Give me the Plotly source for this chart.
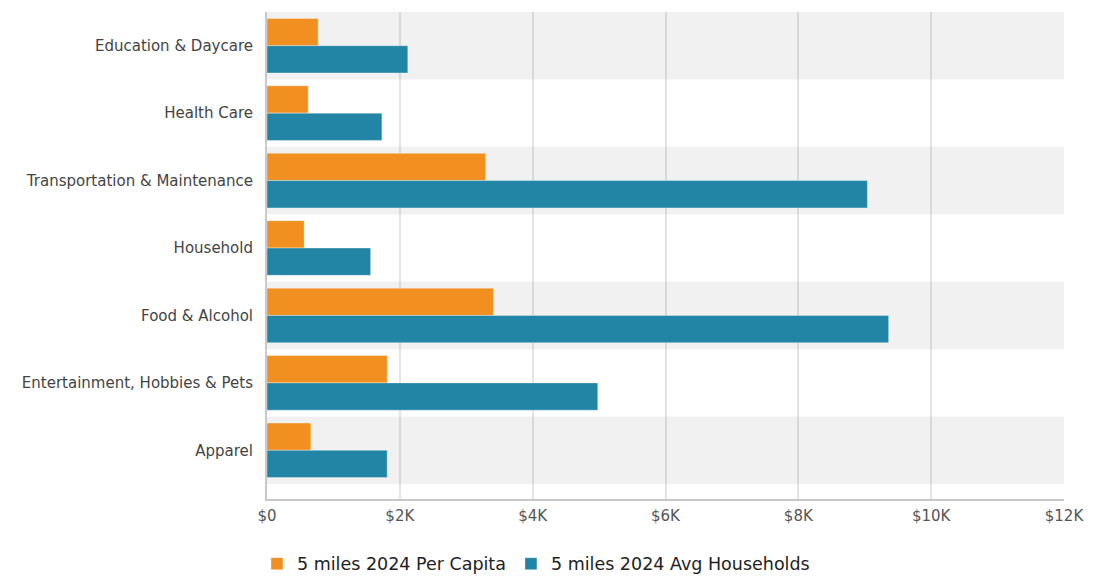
import plotly.graph_objects as go

categories = ["Education & Daycare", "Health Care", "Transportation & Maintenance",
              "Household", "Food & Alcohol", "Entertainment, Hobbies & Pets", "Apparel"]
per_capita = [770, 620, 3290, 560, 3410, 1810, 660]
avg_households = [2120, 1730, 9040, 1560, 9360, 4980, 1810]
series_names = ["5 miles 2024 Per Capita", "5 miles 2024 Avg Households"]
tick_vals = [0, 2000, 4000, 6000, 8000, 10000, 12000]
tick_text = ["$0", "$2K", "$4K", "$6K", "$8K", "$10K", "$12K"]

ORANGE = "#f18f21"
TEAL = "#2285a5"
FONT = "DejaVu Sans, Liberation Sans, Arial, sans-serif"

fig = go.Figure()
fig.add_trace(go.Bar(
    y=categories, x=per_capita, orientation="h", name=series_names[0],
    marker=dict(color=ORANGE, line=dict(color="rgba(255,255,255,0.35)", width=1)),
))
fig.add_trace(go.Bar(
    y=categories, x=avg_households, orientation="h", name=series_names[1],
    marker=dict(color=TEAL, line=dict(color="rgba(255,255,255,0.35)", width=1)),
))

shapes = []
for i in range(0, len(categories), 2):
    shapes.append(dict(type="rect", xref="paper", yref="y", x0=0, x1=1,
                       y0=i - 0.5, y1=i + 0.5, fillcolor="#f1f1f1",
                       line=dict(width=0), layer="below"))

fig.update_layout(
    width=1104, height=569,
    margin=dict(l=259, r=48, t=4, b=78, autoexpand=False),
    paper_bgcolor="white", plot_bgcolor="white",
    barmode="group", bargap=0.19, bargroupgap=0,
    font=dict(family=FONT, color="#444"),
    shapes=shapes,
    showlegend=True,
    legend=dict(orientation="h", x=0.3375, xanchor="center", y=-0.096, yanchor="top",
                font=dict(size=17.5, color="#222", family=FONT), traceorder="normal"),
    xaxis=dict(range=[0, 12000], tickvals=tick_vals, ticktext=tick_text,
               showgrid=True, gridcolor="rgba(0,0,0,0.1)", gridwidth=2,
               zeroline=False, showline=True, linecolor="#c8c8c8", linewidth=2,
               ticks="", tickfont=dict(size=15, color="#555"),
               ticklabelstandoff=2,
               layer="above traces", fixedrange=True),
    yaxis=dict(type="category", categoryorder="array", categoryarray=categories,
               range=[len(categories) - 0.5 + 0.222, -0.5],
               showgrid=False, zeroline=False, showline=True,
               linecolor="#c8c8c8", linewidth=2, ticks="",
               ticklabelstandoff=9, tickfont=dict(size=15, color="#444"),
               fixedrange=True),
)

fig.write_html("out.html")
